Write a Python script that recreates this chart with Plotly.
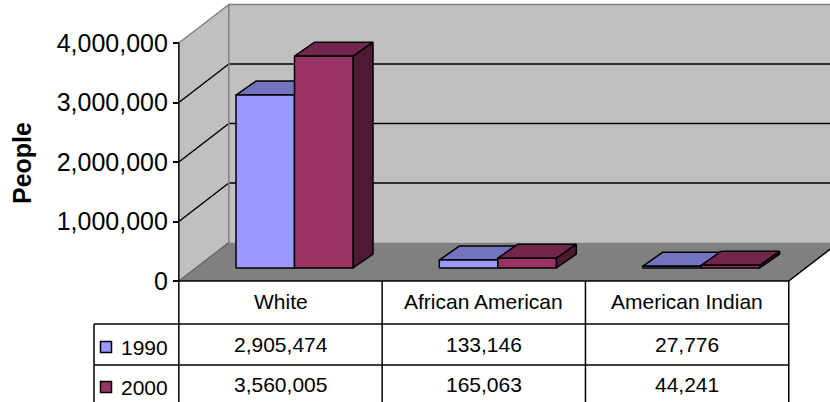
import plotly.graph_objects as go

# ---------------- data ----------------
categories = ["White", "African American", "American Indian"]
years = ["1990", "2000"]
values_1990 = [2905474, 133146, 27776]
values_2000 = [3560005, 165063, 44241]
table_1990 = ["2,905,474", "133,146", "27,776"]
table_2000 = ["3,560,005", "165,063", "44,241"]
y_tick_vals = [0, 1000000, 2000000, 3000000, 4000000]
y_tick_text = ["0", "1,000,000", "2,000,000", "3,000,000", "4,000,000"]
y_title = "People"

# ---------------- geometry (pixels) ----------------
W, H = 830, 402
CAT0_PX = 280.5      # pixel x of category 0 centre
CAT_PX = 203.3       # pixels per category
ZERO_PX = 281.0      # pixel y of value 0 (front plane)
VAL_PX = 59.5e-6     # pixels per person

x_range = [(0 - CAT0_PX) / CAT_PX, (W - CAT0_PX) / CAT_PX]
y_range = [(ZERO_PX - H) / VAL_PX, ZERO_PX / VAL_PX]


def dx(px):
    return px / CAT_PX


def dy(px):
    return px / VAL_PX


FLOOR_D = (dx(50), dy(38.5))      # full depth of the floor
BAR_F = (dx(14), dy(13))          # front face of bars
BAR_B = (dx(34), dy(27))          # back face of bars
BAR_W = dx(58.5)                  # width of one bar

FONT = "Liberation Sans, Arial, sans-serif"
c1990 = {"front": "#9999FF", "top": "#7373BF", "side": "#4D4D80"}
c2000 = {"front": "#993366", "top": "#73264D", "side": "#4D1933"}
WALL = "#C0C0C0"
FLOOR = "#808080"
EDGE = "#808080"

fig = go.Figure()


def poly(xs, ys, fill, line_color="black", lw=1.5):
    fig.add_trace(go.Scatter(
        x=list(xs) + [xs[0]], y=list(ys) + [ys[0]], mode="lines",
        fill="toself", fillcolor=fill,
        line=dict(color=line_color, width=lw),
        hoverinfo="skip", showlegend=False))


def seg(x0, y0, x1, y1, color="black", lw=1.5):
    fig.add_trace(go.Scatter(
        x=[x0, x1], y=[y0, y1], mode="lines",
        line=dict(color=color, width=lw),
        hoverinfo="skip", showlegend=False))


ymax = y_tick_vals[-1]
xl = -0.5
xr = len(categories) - 0.5
far = x_range[1] + 0.5

# back wall
poly([xl + FLOOR_D[0], far, far, xl + FLOOR_D[0]],
     [FLOOR_D[1], FLOOR_D[1], ymax + FLOOR_D[1], ymax + FLOOR_D[1]], WALL, WALL, 0)
# side wall
poly([xl, xl + FLOOR_D[0], xl + FLOOR_D[0], xl],
     [0, FLOOR_D[1], ymax + FLOOR_D[1], ymax], WALL, WALL, 0)
# floor
poly([xl, xr, xr + FLOOR_D[0], xl + FLOOR_D[0]],
     [0, 0, FLOOR_D[1], FLOOR_D[1]], FLOOR, FLOOR, 0)

# gridlines
for v in y_tick_vals[1:-1]:
    seg(xl, v, xl + FLOOR_D[0], v + FLOOR_D[1])
    seg(xl + FLOOR_D[0], v + FLOOR_D[1], far, v + FLOOR_D[1])
# wall edges (grey)
seg(xl, ymax, xl + FLOOR_D[0], ymax + FLOOR_D[1], EDGE, 1.5)
seg(xl + FLOOR_D[0], ymax + FLOOR_D[1], far, ymax + FLOOR_D[1], EDGE, 1.5)
seg(xl + FLOOR_D[0], FLOOR_D[1], xl + FLOOR_D[0], ymax + FLOOR_D[1], EDGE, 1.5)
seg(xl, 0, xl + FLOOR_D[0], FLOOR_D[1], "#606060", 1.2)
# floor right edge
seg(xr, 0, xr + FLOOR_D[0], FLOOR_D[1], "black", 1.5)

# bars
for i, cat in enumerate(categories):
    for j, (vals, col) in enumerate([(values_1990, c1990), (values_2000, c2000)]):
        v = vals[i]
        x0 = i + BAR_F[0] - BAR_W + j * BAR_W
        x1 = x0 + BAR_W
        yb = BAR_F[1]
        yt = BAR_F[1] + v
        ddx = BAR_B[0] - BAR_F[0]
        ddy = BAR_B[1] - BAR_F[1]
        # side face
        poly([x1, x1 + ddx, x1 + ddx, x1], [yb, yb + ddy, yt + ddy, yt], col["side"])
        # top face
        poly([x0, x1, x1 + ddx, x0 + ddx], [yt, yt, yt + ddy, yt + ddy], col["top"])
        # front face
        poly([x0, x1, x1, x0], [yb, yb, yt, yt], col["front"])

# ---------------- table ----------------
ybot = y_range[0] - 1
# axis line + column lines
seg(xl, ymax, xl, ybot)
for k in range(1, len(categories) + 1):
    seg(xl + k, 0, xl + k, ybot)
seg(xl, 0, xr, 0)


def py2paper(py):
    return 1 - py / H


row_lines = [324, 365]
shapes = []
for r in row_lines:
    shapes.append(dict(type="line", xref="paper", yref="paper",
                       x0=94 / W, x1=(xr - x_range[0]) / (x_range[1] - x_range[0]),
                       y0=py2paper(r), y1=py2paper(r), line=dict(color="black", width=1.5)))
shapes.append(dict(type="line", xref="paper", yref="paper", x0=94 / W, x1=94 / W,
                   y0=py2paper(324), y1=0, line=dict(color="black", width=1.5)))
# legend keys
for yc, col in [(347, c1990["front"]), (387, c2000["front"])]:
    shapes.append(dict(type="rect", xref="paper", yref="paper",
                       x0=100.5 / W, x1=111.5 / W, y0=py2paper(yc + 5.5), y1=py2paper(yc - 5.5),
                       fillcolor=col, line=dict(color="black", width=1.5)))

TF = dict(family=FONT, size=21, color="black")
annotations = []
for i, cat in enumerate(categories):
    annotations.append(dict(x=i, y=py2paper(301), xref="x", yref="paper", text=cat,
                            xanchor="center", yanchor="middle", showarrow=False, font=TF))
    annotations.append(dict(x=i, y=py2paper(344), xref="x", yref="paper", text=table_1990[i],
                            xanchor="center", yanchor="middle", showarrow=False, font=TF))
    annotations.append(dict(x=i, y=py2paper(384), xref="x", yref="paper", text=table_2000[i],
                            xanchor="center", yanchor="middle", showarrow=False, font=TF))
for yc, yr in [(347, years[0]), (387, years[1])]:
    annotations.append(dict(x=119 / W, y=py2paper(yc), xref="paper", yref="paper", text=yr,
                            xanchor="left", yanchor="middle", showarrow=False, font=TF))
annotations.append(dict(x=22 / W, y=py2paper(163), xref="paper", yref="paper",
                        text="<b>%s</b>" % y_title, textangle=-90, showarrow=False,
                        xanchor="center", yanchor="middle",
                        font=dict(family=FONT, size=25, color="black")))

axis_pos = (xl - x_range[0]) / (x_range[1] - x_range[0])

fig.update_layout(
    width=W, height=H, autosize=False,
    margin=dict(l=0, r=0, t=0, b=0, pad=0),
    paper_bgcolor="white", plot_bgcolor="white",
    xaxis=dict(range=x_range, visible=False, domain=[0, 1]),
    yaxis=dict(range=y_range, domain=[0, 1], anchor="free", position=axis_pos,
               tickvals=y_tick_vals, ticktext=y_tick_text, ticks="outside",
               ticklen=6, tickwidth=1.5, tickcolor="black",
               showgrid=False, zeroline=False, showline=False,
               tickfont=dict(family=FONT, size=25, color="black")),
    shapes=shapes, annotations=annotations,
    showlegend=False,
)

fig.write_html("out.html")
